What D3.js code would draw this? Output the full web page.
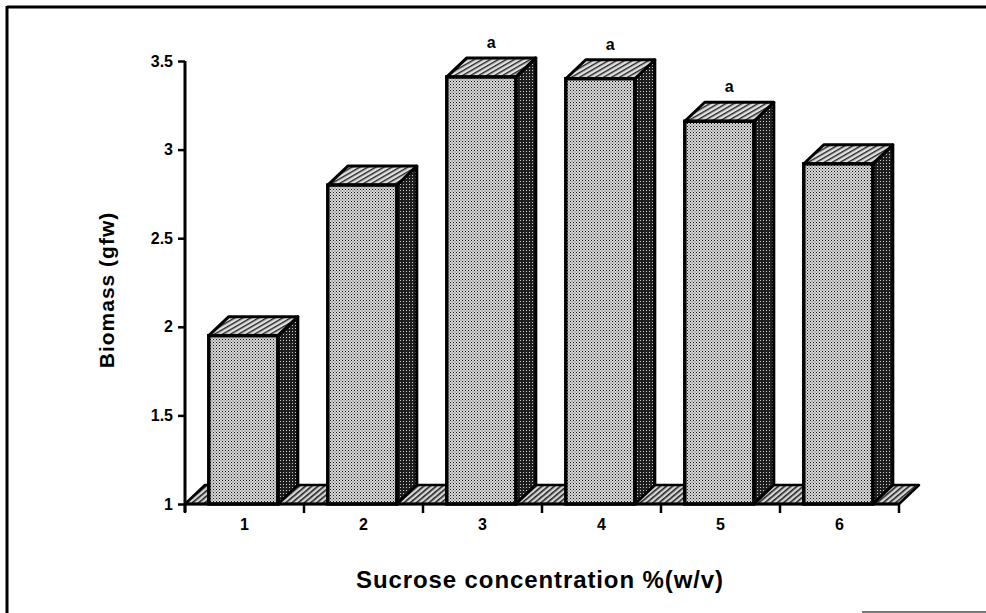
<!DOCTYPE html>
<html>
<head>
<meta charset="utf-8">
<script src="https://cdn.jsdelivr.net/npm/d3@7"></script>
<style>
  body { margin: 0; background: #fff; }
  svg text { font-family: "Liberation Sans", Arial, sans-serif; font-weight: bold; fill: #000; }
</style>
</head>
<body>
<svg id="chart" width="986" height="613"></svg>
<script>
// data
const concentrations = ["1", "2", "3", "4", "5", "6"];
const biomass = [1.95, 2.80, 3.41, 3.40, 3.16, 2.92];
const letters = ["", "", "a", "a", "a", ""];
const yTicks = [1, 1.5, 2, 2.5, 3, 3.5];

const svg = d3.select("#chart");
const margin = {left: 185, right: 87, top: 61, bottom: 109};
const W = 986, H = 613;
const depthX = 20, depthY = -19;

// frame
svg.append("line").attr("x1", 7).attr("x2", 986).attr("y1", 7).attr("y2", 7)
  .attr("stroke", "#000").attr("stroke-width", 3);
svg.append("line").attr("x1", 7).attr("x2", 7).attr("y1", 6).attr("y2", 613)
  .attr("stroke", "#000").attr("stroke-width", 3);
svg.append("line").attr("x1", 862).attr("x2", 986).attr("y1", 612).attr("y2", 612)
  .attr("stroke", "#777").attr("stroke-width", 2);

// patterns
let defs = svg.append("defs");
let pf = defs.append("pattern").attr("id", "front").attr("width", 3).attr("height", 3)
  .attr("patternUnits", "userSpaceOnUse");
pf.append("rect").attr("width", 3).attr("height", 3).attr("fill", "#d8d8d8");
pf.append("rect").attr("x", 0).attr("y", 0).attr("width", 1).attr("height", 1).attr("fill", "#111");
pf.append("rect").attr("x", 1.5).attr("y", 1.5).attr("width", 1).attr("height", 1).attr("fill", "#444");

let ps = defs.append("pattern").attr("id", "side").attr("width", 3).attr("height", 3)
  .attr("patternUnits", "userSpaceOnUse");
ps.append("rect").attr("width", 3).attr("height", 3).attr("fill", "#1e1e1e");
ps.append("rect").attr("x", 1).attr("y", 1).attr("width", 1).attr("height", 1).attr("fill", "#ccc");

let pt = defs.append("pattern").attr("id", "top").attr("width", 4).attr("height", 4)
  .attr("patternUnits", "userSpaceOnUse").attr("patternTransform", "rotate(60)");
pt.append("rect").attr("width", 4).attr("height", 4).attr("fill", "#e0e0e0");
pt.append("rect").attr("width", 1.4).attr("height", 4).attr("fill", "#222");

let pfl = defs.append("pattern").attr("id", "floor").attr("width", 4).attr("height", 4)
  .attr("patternUnits", "userSpaceOnUse").attr("patternTransform", "rotate(50)");
pfl.append("rect").attr("width", 4).attr("height", 4).attr("fill", "#d6d6d6");
pfl.append("rect").attr("width", 1.6).attr("height", 4).attr("fill", "#222");

// scales
const x = d3.scaleBand().domain(concentrations).range([margin.left, W - margin.right])
  .paddingInner(0).paddingOuter(0);
const y = d3.scaleLinear().domain([1, 3.5]).range([H - margin.bottom, margin.top]);
const bw = x.bandwidth();
const y0 = y(1);

// floor
let fx0 = margin.left, fx1 = W - margin.right;
svg.append("path")
  .attr("d", `M${fx0},${y0} L${fx1},${y0} L${fx1 + depthX},${y0 + depthY} L${fx0 + depthX},${y0 + depthY} Z`)
  .attr("fill", "url(#floor)").attr("stroke", "#000").attr("stroke-width", 2.5)
  .attr("stroke-linejoin", "round");

// bars
let bars = svg.append("g").selectAll("g")
  .data(concentrations.map((c, i) => ({c: c, v: biomass[i], l: letters[i]})))
  .enter().append("g");

function bx(d) { return x(d.c) + bw * 0.2; }
const fw = bw * 0.58;

// side face
bars.append("path")
  .attr("d", d => {
    let x1 = bx(d) + fw, yt = y(d.v);
    return `M${x1},${y0} L${x1},${yt} L${x1 + depthX},${yt + depthY} L${x1 + depthX},${y0 + depthY} Z`;
  })
  .attr("fill", "url(#side)").attr("stroke", "#000").attr("stroke-width", 3)
  .attr("stroke-linejoin", "round");

// top face
bars.append("path")
  .attr("d", d => {
    let x0 = bx(d), x1 = x0 + fw, yt = y(d.v);
    return `M${x0},${yt} L${x1},${yt} L${x1 + depthX},${yt + depthY} L${x0 + depthX},${yt + depthY} Z`;
  })
  .attr("fill", "url(#top)").attr("stroke", "#000").attr("stroke-width", 3)
  .attr("stroke-linejoin", "round");

// front face
bars.append("rect")
  .attr("x", d => bx(d))
  .attr("y", d => y(d.v))
  .attr("width", fw)
  .attr("height", d => y0 - y(d.v))
  .attr("fill", "url(#front)").attr("stroke", "#000").attr("stroke-width", 3.5);

// letters
bars.append("text")
  .attr("x", d => bx(d) + fw / 2 + depthX / 2)
  .attr("y", d => y(d.v) - 29)
  .attr("text-anchor", "middle")
  .attr("font-size", 16)
  .text(d => d.l);

// y axis
let yAxis = svg.append("g").attr("transform", `translate(${margin.left},0)`)
  .call(d3.axisLeft(y).tickValues(yTicks).tickSize(7).tickPadding(5)
    .tickFormat(d => String(d)));
yAxis.attr("font-size", 16).attr("font-family", null);
yAxis.select(".domain").attr("stroke-width", 3).attr("d", `M0,${y(3.5)}V${y0 + 8}`);
yAxis.selectAll(".tick line").attr("stroke-width", 2.5);

// x axis
let xAxis = svg.append("g").attr("transform", `translate(0,${y0})`)
  .call(d3.axisBottom(x).tickSize(0).tickPadding(15));
xAxis.attr("font-size", 16).attr("font-family", null);
xAxis.select(".domain").attr("stroke-width", 3).attr("d", `M${margin.left},0H${W - margin.right}`);
// band edge ticks
xAxis.selectAll(".edge").data(concentrations.concat(["end"])).enter().append("line")
  .attr("x1", (d, i) => margin.left + i * bw).attr("x2", (d, i) => margin.left + i * bw)
  .attr("y1", 0).attr("y2", 9).attr("stroke", "#000").attr("stroke-width", 2.5);

// titles
svg.append("text").attr("x", 540).attr("y", 588).attr("text-anchor", "middle")
  .attr("font-size", 24).attr("letter-spacing", 0.9).text("Sucrose concentration %(w/v)");
svg.append("text").attr("transform", "translate(114,290) rotate(-90)")
  .attr("text-anchor", "middle").attr("font-size", 21).attr("letter-spacing", 1)
  .text("Biomass (gfw)");
</script>
</body>
</html>
